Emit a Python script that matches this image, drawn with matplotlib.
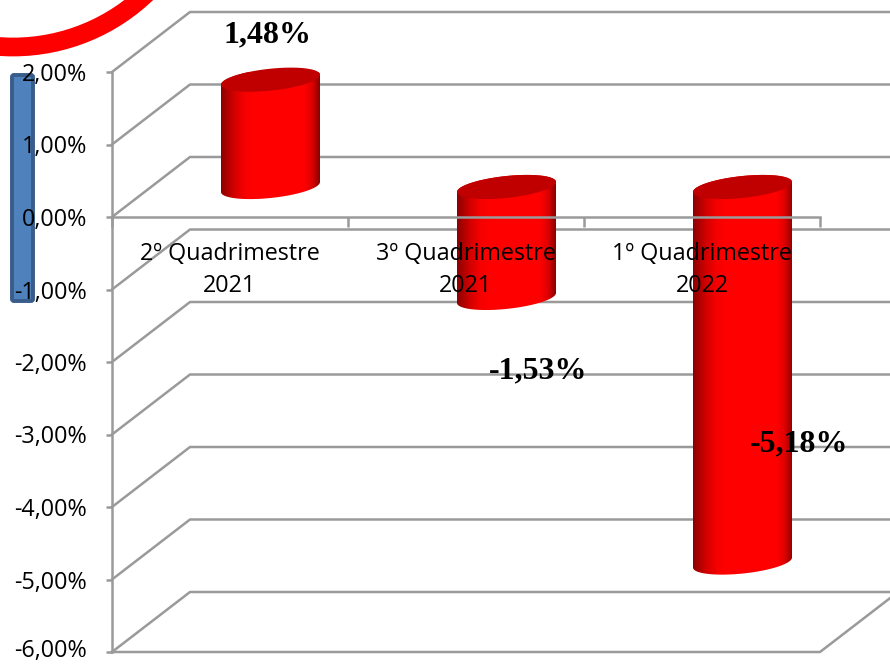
import numpy as np
import matplotlib
matplotlib.use('Agg')
import matplotlib.pyplot as plt
from matplotlib.colors import LinearSegmentedColormap
from matplotlib.patches import Circle, FancyBboxPatch, Polygon
from matplotlib.transforms import ScaledTranslation

# Data
categories = ['2º Quadrimestre\n2021', '3º Quadrimestre\n2021', '1º Quadrimestre\n2022']
values = [1.48, -1.53, -5.18]
value_labels = ['1,48%', '-1,53%', '-5,18%']
y_ticks = [2, 1, 0, -1, -2, -3, -4, -5, -6]
y_tick_labels = ['2,00%', '1,00%', '0,00%', '-1,00%', '-2,00%', '-3,00%', '-4,00%', '-5,00%', '-6,00%']

W, H = 890, 665
GREY = '#9a9a9a'

fig = plt.figure(figsize=(W / 100, H / 100), dpi=100)
fig.patch.set_facecolor('white')

# Overlay in pixels for the two decorations behind the chart
deco = fig.add_axes([0, 0, 1, 1], zorder=0)
deco.set_xlim(0, W)
deco.set_ylim(H, 0)
deco.axis('off')
deco.add_patch(Circle((13, -146), 193, fill=False, edgecolor='#ff0000', linewidth=13.5))
deco.add_patch(FancyBboxPatch((12, 75), 21, 226, boxstyle='round,pad=0,rounding_size=2',
                              facecolor='#4f81bd', edgecolor='#385d8a', linewidth=2.8))

# Front plane of the 3D box
left, right, top, bottom = 112, 820, 72, 652
ax = fig.add_axes([left / W, 1 - bottom / H, (right - left) / W, (bottom - top) / H], zorder=1)
ax.patch.set_alpha(0)
ax.set_xlim(0, 3)
ax.set_ylim(-6, 2)

# Depth of the box, in data units
px_x = 3 / (right - left)
px_y = 8 / (bottom - top)
dx = 78 * px_x
dy = 60 * px_y

# Back wall lines and the diagonals joining them to the axis
for y in y_ticks:
    ax.plot([0, dx, 3 + dx], [y, y + dy, y + dy], color=GREY, lw=1.8, clip_on=False, zorder=1)
ax.plot([0, 3, 3 + dx], [-6, -6, -6 + dy], color=GREY, lw=1.8, clip_on=False, zorder=1)

# Softer shading: dark edges easing into the flat red middle
cmap = LinearSegmentedColormap.from_list('cyl', [(0, '#8e0000'), (0.06, '#b00000'), (0.14, '#d80000'),
                                                 (0.24, '#f60000'), (0.34, '#ff0000'), (0.84, '#ff0000'),
                                                 (0.92, '#e00000'), (0.97, '#b00000'), (1, '#8e0000')])
t = np.linspace(0, 2 * np.pi, 121)
half_w = 49.5 * px_x
minor = 11 * px_y
tilt = 5 * px_y


def ellipse(cx, cy, angles):
    return np.column_stack([cx + half_w * np.cos(angles),
                            cy + minor * np.sin(angles) + tilt * np.cos(angles)])


for i, v in enumerate(values):
    cx = i + 0.5 + dx / 2 + 1.5 * px_x
    y_top = max(v, 0) + dy / 2
    y_bot = min(v, 0) + dy / 2
    outline = np.vstack([ellipse(cx, y_bot, t[60:]), ellipse(cx, y_top, t[:61])])
    body = Polygon(outline, closed=True, facecolor='none', edgecolor='none', transform=ax.transData)
    ax.add_patch(body)
    im = ax.imshow(np.linspace(0, 1, 100).reshape(1, -1), cmap=cmap, aspect='auto', interpolation='bilinear',
                   extent=[cx - half_w, cx + half_w, y_bot - 0.3, y_top + 0.3], zorder=1.6)
    im.set_clip_box(None)
    im.set_clip_path(body)
    ax.add_patch(Polygon(ellipse(cx, y_top, t), closed=True, facecolor='#c00000', edgecolor='none',
                         zorder=1.7, clip_on=False))
ax.set_xlim(0, 3)
ax.set_ylim(-6, 2)

# Axes
ax.set_axisbelow(False)
for side in ['top', 'right']:
    ax.spines[side].set_visible(False)
ax.spines['bottom'].set_position(('data', 0))
for side in ['left', 'bottom']:
    ax.spines[side].set_color(GREY)
    ax.spines[side].set_linewidth(1.8)

ax.set_yticks(y_ticks)
ax.set_yticklabels(y_tick_labels, fontsize=16.8, family='Open Sans', color='black')
ax.tick_params(axis='y', length=4.5, width=1.8, color=GREY, pad=13.5)

# Lowest label sits right on the picture's edge, lift it a little
last = ax.get_yticklabels()[-1]
last.set_transform(last.get_transform() + ScaledTranslation(0, 3 / 72, fig.dpi_scale_trans))

ax.set_xticks([0, 1, 2, 3])
ax.set_xticklabels([])
ax.tick_params(axis='x', which='major', length=7, width=1.8, color=GREY)
ax.set_xticks([0.5, 1.5, 2.5], minor=True)
ax.set_xticklabels(categories, minor=True, fontsize=16.8, family='Open Sans', color='black', linespacing=1.45)
ax.tick_params(axis='x', which='minor', length=0, pad=18)

# Value labels, placed by offset from the end of each bar
offsets = [(38, 75), (72, -43), (97, 149)]
for i, (v, lab) in enumerate(zip(values, value_labels)):
    ax.annotate(lab, xy=(i + 0.5, v), xytext=offsets[i], textcoords='offset pixels',
                ha='center', va='center', fontsize=23, fontweight='bold',
                family='Liberation Serif', color='black', zorder=5, annotation_clip=False)

fig.savefig('out.png', dpi=100)
